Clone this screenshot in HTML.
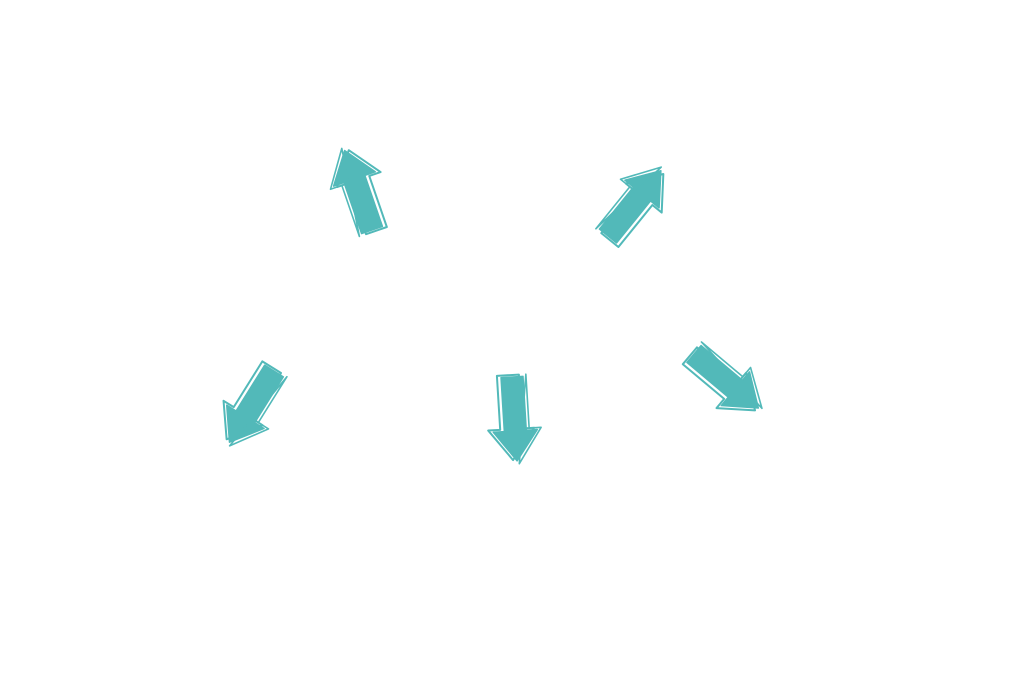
<!DOCTYPE html>
<html><head><meta charset="utf-8"><style>html,body{margin:0;padding:0;background:#fff}</style></head>
<body>
<svg width="1024" height="682" viewBox="0 0 1024 682" xmlns="http://www.w3.org/2000/svg">
<defs>
<g id="a">
<polygon points="-11,0 -11,-54 -23,-54 0,-85 23,-54 11,-54 11,0" transform="translate(4,2)" fill="none" stroke="#52b9b9" stroke-width="2" stroke-linejoin="round"/>
<polygon points="-11,0 -11,-54 -22,-54 0,-84 22,-54 11,-54 11,0" fill="#52b9b9" stroke="#52b9b9" stroke-width="1.5" stroke-linejoin="round"/>
<polygon points="-14,2 -14,-52 -26,-52 -2,-87" fill="none" stroke="#52b9b9" stroke-width="1.6" stroke-linejoin="round"/>
</g>
</defs>
<use href="#a" transform="translate(372,230) rotate(-19)"/>
<use href="#a" transform="translate(608,236) rotate(39)"/>
<use href="#a" transform="translate(274,371) rotate(212)"/>
<use href="#a" transform="translate(512,377) rotate(176.5)"/>
<use href="#a" transform="translate(694,354) rotate(130)"/>
</svg>
</body></html>
